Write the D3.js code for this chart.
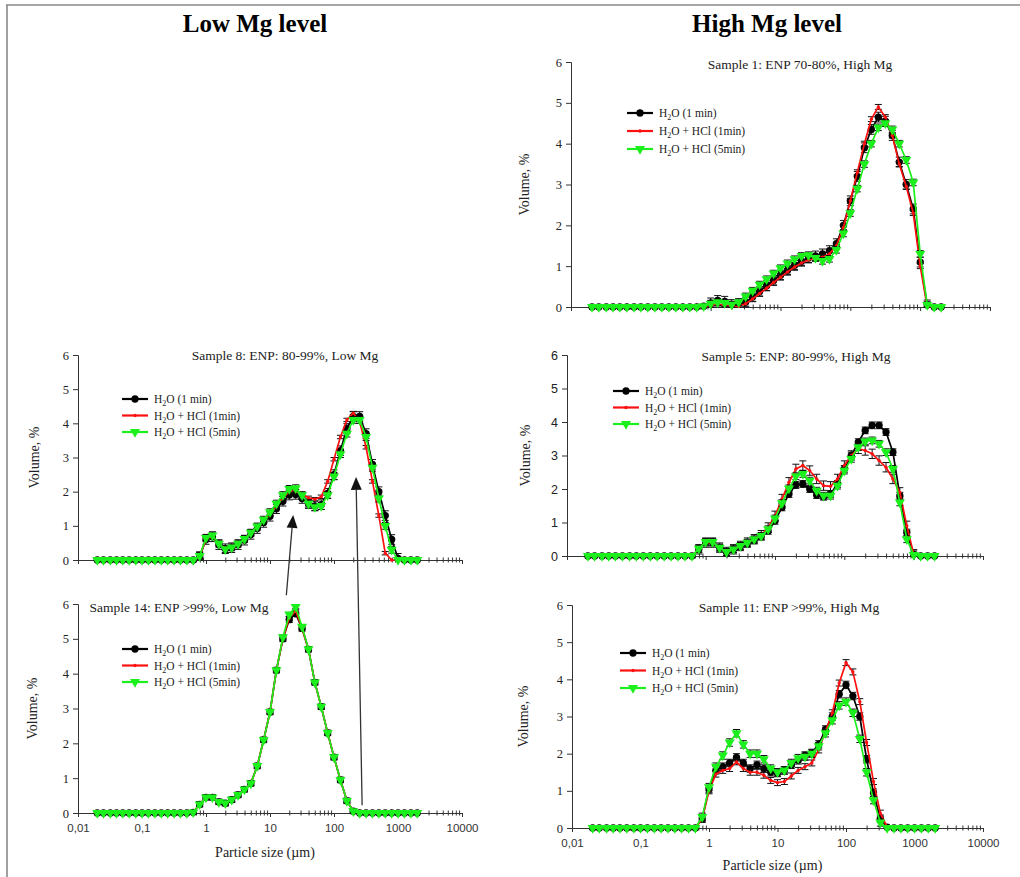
<!DOCTYPE html>
<html>
<head>
<meta charset="utf-8">
<script src="https://cdn.jsdelivr.net/npm/d3@7"></script>
<style>
  body { margin: 0; background: #fff; }
  svg text { font-family: "Liberation Serif", "Times New Roman", serif; fill: #222; }
</style>
</head>
<body>
<div id="chart"></div>
<script>
// --- Data (particle size bins in µm, volume %) ---
const sizes = [0.02, 0.025, 0.032, 0.04, 0.05, 0.063, 0.08, 0.1, 0.126, 0.159,
  0.2, 0.252, 0.317, 0.399, 0.502, 0.632, 0.796, 1.0, 1.26, 1.59,
  2.0, 2.52, 3.17, 3.99, 5.02, 6.32, 7.96, 10.0, 12.6, 15.9,
  20.0, 25.2, 31.7, 39.9, 50.2, 63.2, 79.6, 100, 126, 159,
  200, 252, 317, 399, 502, 632, 796, 1002, 1262, 1589, 2000];

// Sample 1 (high Mg, ENP 70-80%)
const s1Water = [0,0,0,0,0,0,0,0,0,0, 0,0,0,0,0,0,0.02,0.1,0.16,0.14,
  0.06,0.08,0.12,0.25,0.38,0.52,0.65,0.78,0.9,1.02, 1.12,1.2,1.25,1.3,1.38,1.55,2.0,2.6,3.2,3.9,
  4.35,4.65,4.55,4.2,3.55,3.0,2.4,1.1,0.05,0,0];
const s1Hcl1 = [0,0,0,0,0,0,0,0,0,0, 0,0,0,0,0,0,0,0.03,0.06,0.05,
  0.02,0.02,0.08,0.2,0.33,0.46,0.6,0.73,0.86,0.98, 1.08,1.15,1.2,1.22,1.3,1.5,1.95,2.6,3.3,4.0,
  4.6,4.9,4.65,4.2,3.5,2.95,2.3,1.0,0,0,0];
const s1Hcl5 = [0,0,0,0,0,0,0,0,0,0, 0,0,0,0,0,0,0.02,0.08,0.12,0.1,
  0.06,0.12,0.26,0.4,0.55,0.68,0.82,0.95,1.07,1.17, 1.25,1.27,1.2,1.13,1.18,1.4,1.8,2.3,2.9,3.5,
  4.0,4.4,4.5,4.35,4.0,3.6,3.05,1.3,0.05,0,0];

// Sample 8 (low Mg, ENP 80-99%)
const s8Water = [0,0,0,0,0,0,0,0,0,0, 0,0,0,0,0,0,0.1,0.6,0.68,0.45,
  0.33,0.36,0.45,0.58,0.75,0.92,1.1,1.28,1.5,1.72, 1.9,1.92,1.8,1.65,1.58,1.62,1.95,2.5,3.2,3.85,
  4.2,4.2,3.7,2.8,2.0,1.3,0.6,0.05,0,0,0];
const s8Hcl1 = [0,0,0,0,0,0,0,0,0,0, 0,0,0,0,0,0,0.1,0.6,0.7,0.47,
  0.33,0.36,0.46,0.6,0.78,0.97,1.15,1.35,1.58,1.82, 2.0,2.02,1.92,1.82,1.78,1.85,2.3,2.95,3.6,4.1,
  4.3,4.05,3.3,2.3,1.3,0.2,0,0,0,0,0];
const s8Hcl5 = [0,0,0,0,0,0,0,0,0,0, 0,0,0,0,0,0,0.12,0.65,0.72,0.48,
  0.32,0.37,0.48,0.62,0.8,0.98,1.18,1.4,1.65,1.9, 2.08,2.1,1.9,1.65,1.55,1.58,1.9,2.45,3.1,3.7,
  4.1,4.1,3.6,2.7,1.8,1.0,0.3,0,0,0,0];

// Sample 14 (low Mg, ENP >99%)
const s14Water = [0,0,0,0,0,0,0,0,0,0, 0,0,0,0,0,0.02,0.25,0.45,0.45,0.32,
  0.28,0.38,0.52,0.68,0.85,1.35,2.1,2.9,4.1,5.0, 5.55,5.72,5.3,4.7,3.75,3.05,2.3,1.6,0.95,0.35,
  0.05,0,0,0,0,0,0,0,0,0,0];
const s14Hcl1 = [0,0,0,0,0,0,0,0,0,0, 0,0,0,0,0,0.02,0.25,0.45,0.45,0.32,
  0.28,0.38,0.52,0.68,0.85,1.35,2.1,2.9,4.1,5.0, 5.6,5.8,5.3,4.7,3.75,3.05,2.3,1.6,0.95,0.35,
  0.05,0,0,0,0,0,0,0,0,0,0];
const s14Hcl5 = [0,0,0,0,0,0,0,0,0,0, 0,0,0,0,0,0.02,0.25,0.45,0.45,0.32,
  0.28,0.38,0.52,0.68,0.85,1.35,2.1,2.9,4.1,5.05, 5.7,5.92,5.35,4.7,3.75,3.05,2.3,1.6,0.95,0.35,
  0.05,0,0,0,0,0,0,0,0,0,0];

// Sample 5 (high Mg, ENP 80-99%)
const s5Water = [0,0,0,0,0,0,0,0,0,0, 0,0,0,0,0,0,0.2,0.4,0.4,0.25,
  0.12,0.2,0.3,0.38,0.48,0.58,0.75,1.05,1.45,1.85, 2.12,2.15,2.0,1.82,1.77,1.85,2.15,2.6,3.0,3.4,
  3.75,3.9,3.9,3.7,3.1,1.8,0.7,0.05,0,0,0];
const s5Hcl1 = [0,0,0,0,0,0,0,0,0,0, 0,0,0,0,0,0,0.2,0.4,0.4,0.25,
  0.12,0.2,0.3,0.4,0.5,0.62,0.85,1.2,1.7,2.2, 2.6,2.7,2.55,2.3,2.1,2.08,2.3,2.7,3.0,3.2,
  3.15,3.05,2.85,2.65,2.3,1.9,0.9,0.05,0,0,0];
const s5Hcl5 = [0,0,0,0,0,0,0,0,0,0, 0,0,0,0,0,0,0.22,0.42,0.42,0.25,
  0.12,0.2,0.3,0.4,0.5,0.6,0.8,1.12,1.58,2.02, 2.38,2.45,2.25,1.95,1.8,1.8,2.1,2.55,2.9,3.25,
  3.42,3.45,3.35,3.1,2.6,1.6,0.5,0.03,0,0,0];

// Sample 11 (high Mg, ENP >99%)
const s11Water = [0,0,0,0,0,0,0,0,0,0, 0,0,0,0,0,0,0.25,1.05,1.55,1.65,
  1.75,1.9,1.75,1.6,1.7,1.6,1.5,1.48,1.55,1.7, 1.82,1.95,2.02,2.25,2.65,3.0,3.6,3.85,3.55,3.0,
  1.85,0.95,0.25,0.02,0,0,0,0,0,0,0];
const s11Hcl1 = [0,0,0,0,0,0,0,0,0,0, 0,0,0,0,0,0,0.25,1.0,1.45,1.55,
  1.6,1.78,1.6,1.5,1.5,1.42,1.28,1.22,1.25,1.4, 1.55,1.65,1.75,2.1,2.6,3.1,3.9,4.45,4.2,3.4,
  2.3,1.25,0.4,0.03,0,0,0,0,0,0,0];
const s11Hcl5 = [0,0,0,0,0,0,0,0,0,0, 0,0,0,0,0,0,0.3,1.1,1.65,1.95,
  2.3,2.55,2.25,2.0,2.0,1.85,1.6,1.5,1.55,1.75, 1.88,1.92,2.0,2.2,2.55,2.9,3.3,3.4,3.1,2.4,
  1.5,0.75,0.15,0,0,0,0,0,0,0,0];

// standard deviations (error bars) per series: water, HCl 1 min, HCl 5 min
const s1Sd = [0.12, 0.06, 0.08];
const s8Sd = [0.14, 0.05, 0.1];
const s14Sd = [0.08, 0.05, 0.06];
const s5Sd = [0.1, 0.14, 0.1];
const s11Sd = [0.1, 0.08, 0.1];

const yTicks = [0, 1, 2, 3, 4, 5, 6];
const xDecades = [0.01, 0.1, 1, 10, 100, 1000, 10000];
const xTickLabels = ["0,01", "0,1", "1", "10", "100", "1000", "10000"];
const legendParts = [["H", "2", "O (1 min)"], ["H", "2", "O + HCl (1min)"], ["H", "2", "O + HCl (5min)"]];
const columnTitles = ["Low Mg level", "High Mg level"];

// --- Layout & style ---
const W = 1020, H = 877;
const seriesStyle = [
  { color: "#000000", symbol: d3.symbolCircle, size: 42, rotate: 0, width: 1.7 },
  { color: "#ff1010", symbol: d3.symbolCircle, size: 9, rotate: 0, width: 1.7 },
  { color: "#1cf01c", symbol: d3.symbolTriangle, size: 44, rotate: 180, width: 1.7 },
];

const panels = [
  { id: "s1", title: "Sample 1: ENP 70-80%, High Mg", series: [s1Water, s1Hcl1, s1Hcl5], sd: s1Sd,
    box: { x0: 571, x1: 990, y0: 307, y1: 62 }, titleAt: [800, 69], legend: [627, 113, 18],
    yLabelX: 524, xLabels: false, yFont: "serif" },
  { id: "s8", title: "Sample 8: ENP: 80-99%, Low Mg", series: [s8Water, s8Hcl1, s8Hcl5], sd: s8Sd,
    box: { x0: 78, x1: 462, y0: 560, y1: 355 }, titleAt: [285, 360], legend: [122, 399, 16.5],
    yLabelX: 34, xLabels: false, yFont: "serif" },
  { id: "s14", title: "Sample 14: ENP >99%, Low Mg", series: [s14Water, s14Hcl1, s14Hcl5], sd: s14Sd,
    box: { x0: 78, x1: 462, y0: 813, y1: 604 }, titleAt: [179, 612], legend: [122, 649, 16.5],
    yLabelX: 32, xLabels: true, xLabelY: 833, xTitleY: 857, yFont: "serif" },
  { id: "s5", title: "Sample 5: ENP: 80-99%, High Mg", series: [s5Water, s5Hcl1, s5Hcl5], sd: s5Sd,
    box: { x0: 567, x1: 983, y0: 556, y1: 355 }, titleAt: [796, 361], legend: [613, 391, 16.5],
    yLabelX: 525, xLabels: false, yFont: "sans" },
  { id: "s11", title: "Sample 11: ENP >99%, High Mg", series: [s11Water, s11Hcl1, s11Hcl5], sd: s11Sd,
    box: { x0: 572, x1: 983, y0: 828, y1: 605 }, titleAt: [789, 612], legend: [620, 653, 17.5],
    yLabelX: 523, xLabels: true, xLabelY: 848, xTitleY: 870, yFont: "serif" },
];

// annotation arrows, in data coordinates of the panels they join
const arrows = [
  { from: ["s14", 18, 6.25], to: ["s8", 23, 1.32] },
  { from: ["s14", 275, 0.22], to: ["s8", 221, 2.43] },
];

const svg = d3.select("#chart").append("svg").attr("width", W).attr("height", H);
svg.append("rect").attr("width", W).attr("height", H).attr("fill", "#fff");

// page frame (top and left edge)
svg.append("line").attr("x1", 6).attr("x2", W).attr("y1", 5).attr("y2", 5).attr("stroke", "#888").attr("stroke-width", 1.6);
svg.append("line").attr("x1", 7).attr("x2", 7).attr("y1", 5).attr("y2", H).attr("stroke", "#888").attr("stroke-width", 1.6);

// column headings
svg.selectAll(".col-title").data(columnTitles).enter().append("text")
  .attr("class", "col-title")
  .attr("x", (d, i) => (i === 0 ? 255 : 767))
  .attr("y", 32)
  .attr("text-anchor", "middle")
  .attr("font-weight", "bold")
  .attr("font-size", "25px")
  .style("fill", "#000")
  .text((d) => d);

const scales = {};

panels.forEach((p) => {
  const x = d3.scaleLog().domain([0.01, 10000]).range([p.box.x0, p.box.x1]);
  const y = d3.scaleLinear().domain([0, 6]).range([p.box.y0, p.box.y1]);
  scales[p.id] = { x, y };
  const g = svg.append("g").attr("class", "panel-" + p.id);
  const tickFont = p.yFont === "sans" ? '"Liberation Sans", Arial, sans-serif' : '"Liberation Serif", "Times New Roman", serif';

  // y axis
  const yAxis = g.append("g").attr("transform", `translate(${p.box.x0},0)`)
    .call(d3.axisLeft(y).tickValues(yTicks).tickSize(5).tickPadding(4).tickFormat(d3.format("d")));
  yAxis.selectAll("text").attr("font-size", "12.5px").style("font-family", tickFont).style("fill", "#222");
  yAxis.selectAll("line, path").attr("stroke", "#333");

  // x axis: decade ticks below, minor ticks crossing the line
  const minor = [];
  xDecades.slice(0, -1).forEach((d) => { for (let k = 2; k <= 9; k++) minor.push(d * k); });
  const xMajor = g.append("g").attr("transform", `translate(0,${p.box.y0})`)
    .call(d3.axisBottom(x).tickValues(xDecades).tickSize(4).tickSizeOuter(0)
      .tickFormat((d, i) => (p.xLabels ? xTickLabels[i] : "")).tickPadding(7));
  xMajor.selectAll("text").attr("font-size", "11.5px").style("font-family", '"Liberation Sans", Arial, sans-serif').style("fill", "#333");
  xMajor.selectAll("line, path").attr("stroke", "#333");
  [d3.axisBottom, d3.axisTop].forEach((ax) => {
    const m = g.append("g").attr("transform", `translate(0,${p.box.y0})`)
      .call(ax(x).tickValues(minor).tickSize(2.5).tickSizeOuter(0).tickFormat(""));
    m.select(".domain").remove();
    m.selectAll("line").attr("stroke", "#333");
  });

  // panel title
  g.append("text").attr("x", p.titleAt[0]).attr("y", p.titleAt[1])
    .attr("text-anchor", "middle").attr("font-size", "13.5px").text(p.title);

  // y axis title
  const ym = (p.box.y0 + p.box.y1) / 2;
  g.append("text").attr("transform", `translate(${p.yLabelX},${ym}) rotate(-90)`)
    .attr("text-anchor", "middle").attr("dy", "0.35em").attr("font-size", "14px").text("Volume, %");

  if (p.xLabels) {
    g.append("text").attr("x", (p.box.x0 + p.box.x1) / 2 - 5).attr("y", p.xTitleY)
      .attr("text-anchor", "middle").attr("font-size", "14px").text("Particle size (µm)");
  }

  const line = d3.line().x((d) => x(d.size)).y((d) => y(d.v));

  p.series.forEach((vals, si) => {
    const st = seriesStyle[si];
    const pts = vals.map((v, i) => ({ size: sizes[i], v }));
    const sg = g.append("g").attr("class", "series-" + si);
    const sd = p.sd[si];

    // error bars
    const eb = sg.selectAll(".eb").data(pts.filter((d) => d.v > 0.04)).enter().append("g").attr("class", "eb");
    eb.append("line")
      .attr("x1", (d) => x(d.size)).attr("x2", (d) => x(d.size))
      .attr("y1", (d) => y(Math.max(0, d.v - sd))).attr("y2", (d) => y(d.v + sd));
    eb.append("line")
      .attr("x1", (d) => x(d.size) - 3.5).attr("x2", (d) => x(d.size) + 3.5)
      .attr("y1", (d) => y(d.v + sd)).attr("y2", (d) => y(d.v + sd));
    eb.append("line")
      .attr("x1", (d) => x(d.size) - 3.5).attr("x2", (d) => x(d.size) + 3.5)
      .attr("y1", (d) => y(Math.max(0, d.v - sd))).attr("y2", (d) => y(Math.max(0, d.v - sd)));
    eb.selectAll("line").attr("stroke", "#111").attr("stroke-width", 1);

    sg.append("path").datum(pts).attr("d", line)
      .attr("fill", "none").attr("stroke", st.color).attr("stroke-width", st.width);

    sg.selectAll(".mk").data(pts).enter().append("path").attr("class", "mk")
      .attr("d", d3.symbol().type(st.symbol).size(st.size))
      .attr("transform", (d) => `translate(${x(d.size)},${y(d.v)}) rotate(${st.rotate})`)
      .attr("fill", st.color);
  });

  // legend
  const [lx, ly, ldy] = p.legend;
  legendParts.forEach((parts, i) => {
    const st = seriesStyle[i];
    const cy = ly + i * ldy;
    g.append("line").attr("x1", lx).attr("x2", lx + 26).attr("y1", cy).attr("y2", cy)
      .attr("stroke", st.color).attr("stroke-width", 2.2);
    g.append("path").attr("d", d3.symbol().type(st.symbol).size(st.size))
      .attr("transform", `translate(${lx + 13},${cy}) rotate(${st.rotate})`).attr("fill", st.color);
    const t = g.append("text").attr("x", lx + 32).attr("y", cy).attr("dy", "0.35em").attr("font-size", "11.5px");
    t.append("tspan").text(parts[0]);
    t.append("tspan").attr("font-size", "8px").attr("dy", "3").text(parts[1]);
    t.append("tspan").attr("dy", "-3").text(parts[2]);
  });
});

// arrows between panels
arrows.forEach((a) => {
  const s0 = scales[a.from[0]], s1 = scales[a.to[0]];
  const x0 = s0.x(a.from[1]), y0 = s0.y(a.from[2]);
  const x1 = s1.x(a.to[1]), y1 = s1.y(a.to[2]);
  const ang = Math.atan2(y1 - y0, x1 - x0);
  const len = 13, hw = 5.5;
  const bx = x1 - len * Math.cos(ang), by = y1 - len * Math.sin(ang);
  svg.append("line").attr("x1", x0).attr("y1", y0).attr("x2", bx).attr("y2", by)
    .attr("stroke", "#333").attr("stroke-width", 1.3);
  const px = -Math.sin(ang) * hw, py = Math.cos(ang) * hw;
  svg.append("path")
    .attr("d", `M${x1},${y1}L${bx + px},${by + py}L${bx - px},${by - py}Z`)
    .attr("fill", "#111");
});
</script>
</body>
</html>
